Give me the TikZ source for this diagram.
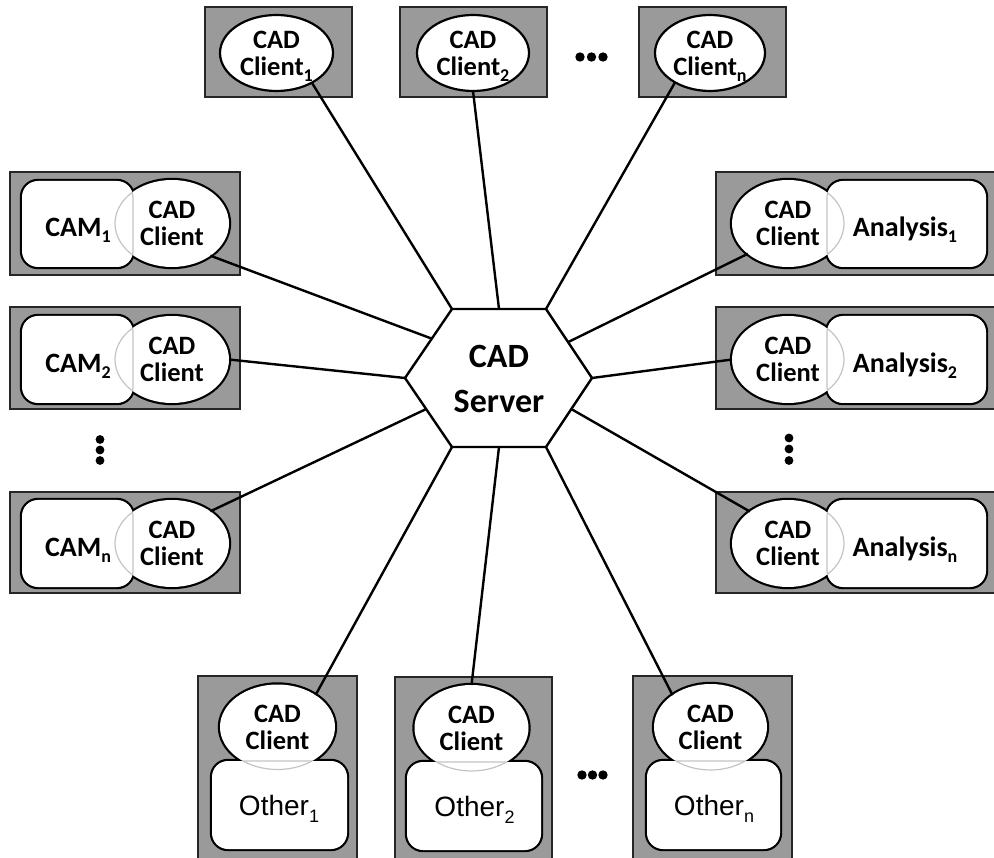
\documentclass[tikz,border=0pt]{standalone}
\usepackage{fontspec}
\setmainfont{Carlito}
\newfontfamily\arialfont{Liberation Sans}
\usetikzlibrary{shapes.geometric,calc}
\definecolor{panelgray}{HTML}{9A9A9A}
\definecolor{innergray}{HTML}{C4C4C4}
\newcommand\lowidx[1]{\raisebox{-6pt}[0pt][0pt]{\fontsize{18}{18}\selectfont #1}}
\newcommand\lowidxr[1]{\raisebox{-7pt}[0pt][0pt]{\fontsize{18}{18}\selectfont #1}}
% ellipse + rounded rectangle merged outline
\newcommand\duo[4]{%
  \path[outline] #1 ellipse[#2];
  \path[outline, rounded corners=16pt] #3 rectangle #4;
  \fill[white] #1 ellipse[#2];
  \fill[white, rounded corners=16pt] #3 rectangle #4;
  \begin{scope}\clip[rounded corners=16pt] #3 rectangle #4; \path[innerline] #1 ellipse[#2];\end{scope}
  \begin{scope}\clip #1 ellipse[#2]; \path[innerline, rounded corners=16pt] #3 rectangle #4;\end{scope}
}
\begin{document}
\begin{tikzpicture}[x=1pt,y=-1pt,
  panel/.style={fill=panelgray, draw=black!85, line width=1.8pt},
  outline/.style={draw=black, line width=4.4pt},
  innerline/.style={draw=innergray, line width=1.2pt},
  topclient/.style={ellipse, draw=black, fill=white, line width=2.2pt, inner sep=0pt, outer sep=0pt,
     minimum height=76pt, align=center, font=\bfseries\fontsize{26.5}{27}\selectfont},
  clienttext/.style={ellipse, inner sep=0pt, outer sep=0pt, align=center,
     font=\bfseries\fontsize{26.5}{27}\selectfont},
  apptext/.style={anchor=base, inner sep=0pt, font=\bfseries\fontsize{28}{28}\selectfont},
  othertext/.style={anchor=base, inner sep=0pt, font=\arialfont\fontsize{28}{28}\selectfont},
  servertext/.style={align=center, font=\bfseries\fontsize{34}{45}\selectfont},
  link/.style={draw=black, line width=2.4pt},
  hexline/.style={draw=black, fill=white, line width=2.4pt, line join=miter}
]
\useasboundingbox (0,0) rectangle (994,858);

% hexagon corners
\coordinate (TL) at (452,309);
\coordinate (TR) at (546,309);
\coordinate (R)  at (592,378);
\coordinate (BR) at (546,447);
\coordinate (BL) at (452,447);
\coordinate (L)  at (405,378);
\coordinate (TM) at ($(TL)!0.5!(TR)$);
\coordinate (BM) at ($(BL)!0.5!(BR)$);
\coordinate (ULe) at ($(L)!0.57!(TL)$);
\coordinate (LLe) at ($(L)!0.45!(BL)$);
\coordinate (URe) at ($(R)!0.52!(TR)$);
\coordinate (LRe) at ($(R)!0.45!(BR)$);

% ---------- top clients ----------
\path[panel] (205,7) rectangle (352,97);
\node[topclient, minimum width=113pt] (c1) at (276.5,53) {CAD\\Client\lowidx{1}};
\path[panel] (400,7) rectangle (547,97);
\node[topclient, minimum width=112pt] (c2) at (473,53) {CAD\\Client\lowidx{2}};
\path[panel] (639,7) rectangle (786,97);
\node[topclient, minimum width=110pt] (c3) at (710,53) {CAD\\Client\lowidx{n}};
\fill (580,57) circle[radius=4.7pt] (591.5,57) circle[radius=4.7pt] (603,57) circle[radius=4.7pt];

% ---------- left column ----------
\path[panel] (10,172) rectangle (240,275);
\duo{(172,223.5)}{x radius=57pt, y radius=43.5pt}{(22,181)}{(133,267)}
\node[clienttext, minimum width=114pt, minimum height=87pt] (m1) at (172,223.5) {CAD\\Client};
\node[apptext] (cam1) at (78,236.5) {CAM\lowidx{1}};

\path[panel] (10,307) rectangle (240,409);
\duo{(172,359.5)}{x radius=57pt, y radius=43.5pt}{(22,316)}{(133,403)}
\node[clienttext, minimum width=114pt, minimum height=87pt] (m2) at (172,359.5) {CAD\\Client};
\node[apptext] (cam2) at (78,372.5) {CAM\lowidx{2}};

\fill (100,439.5) circle[radius=4.4pt] (100,450) circle[radius=4.4pt] (100,460.5) circle[radius=4.4pt];

\path[panel] (10,492) rectangle (240,593);
\duo{(172,543.5)}{x radius=57pt, y radius=43.5pt}{(22,500)}{(133,587)}
\node[clienttext, minimum width=114pt, minimum height=87pt] (m3) at (172,543.5) {CAD\\Client};
\node[apptext] (camn) at (78,556.5) {CAM\lowidx{n}};

% ---------- right column ----------
\path[panel] (716,172) rectangle (995,275);
\duo{(788,223.5)}{x radius=56pt, y radius=43.5pt}{(827,181)}{(986,267)}
\node[clienttext, minimum width=112pt, minimum height=87pt] (a1) at (788,223.5) {CAD\\Client};
\node[apptext] (an1) at (905,236.5) {Analysis\lowidx{1}};

\path[panel] (716,307) rectangle (995,409);
\duo{(788,359.5)}{x radius=56pt, y radius=43.5pt}{(827,316)}{(986,403)}
\node[clienttext, minimum width=112pt, minimum height=87pt] (a2) at (788,359.5) {CAD\\Client};
\node[apptext] (an2) at (905,372.5) {Analysis\lowidx{2}};

\fill (789,438) circle[radius=4.4pt] (789,449) circle[radius=4.4pt] (789,460.5) circle[radius=4.4pt];

\path[panel] (716,492) rectangle (995,593);
\duo{(788,543.5)}{x radius=56pt, y radius=43.5pt}{(827,500)}{(986,587)}
\node[clienttext, minimum width=112pt, minimum height=87pt] (a3) at (788,543.5) {CAD\\Client};
\node[apptext] (ann) at (905,556.5) {Analysis\lowidx{n}};

% ---------- bottom row ----------
\path[panel] (198,676) rectangle (357,859);
\duo{(277.5,727)}{x radius=57.5pt, y radius=42.5pt}{(212,761)}{(347,849)}
\node[clienttext, minimum width=115pt, minimum height=85pt] (o1) at (277.5,727) {CAD\\Client};
\node[othertext] (ot1) at (279,815) {Other\lowidxr{1}};

\path[panel] (395,677) rectangle (552,859);
\duo{(471.5,728)}{x radius=57pt, y radius=43pt}{(407,762)}{(541,850)}
\node[clienttext, minimum width=114pt, minimum height=86pt] (o2) at (471.5,728) {CAD\\Client};
\node[othertext] (ot2) at (474.5,816) {Other\lowidxr{2}};

\fill (582,775) circle[radius=4.7pt] (592.5,775) circle[radius=4.7pt] (603,775) circle[radius=4.7pt];

\path[panel] (633,676) rectangle (792,859);
\duo{(710.5,727)}{x radius=56.5pt, y radius=43pt}{(647,761)}{(780,849)}
\node[clienttext, minimum width=113pt, minimum height=86pt] (o3) at (710.5,727) {CAD\\Client};
\node[othertext] (otn) at (714,815) {Other\lowidxr{n}};

% ---------- connectors ----------
\draw[link] (c1.-40) -- (TL);
\draw[link] (c2.south) -- (TM);
\draw[link] (c3.-140) -- (TR);
\draw[link] (m1.-40) -- (ULe);
\draw[link] (m2.east) -- (L);
\draw[link] (m3.40) -- (LLe);
\draw[link] (a1.-143) -- (URe);
\draw[link] (a2.west) -- (R);
\draw[link] (a3.140) -- (LRe);
\draw[link] (o1.40) -- (BL);
\draw[link] (o2.north) -- (BM);
\draw[link] (o3.140) -- (BR);

% ---------- server ----------
\path[hexline] (TL) -- (TR) -- (R) -- (BR) -- (BL) -- (L) -- cycle;
\node[servertext] (server) at (499,379) {CAD\\Server};
\end{tikzpicture}
\end{document}
